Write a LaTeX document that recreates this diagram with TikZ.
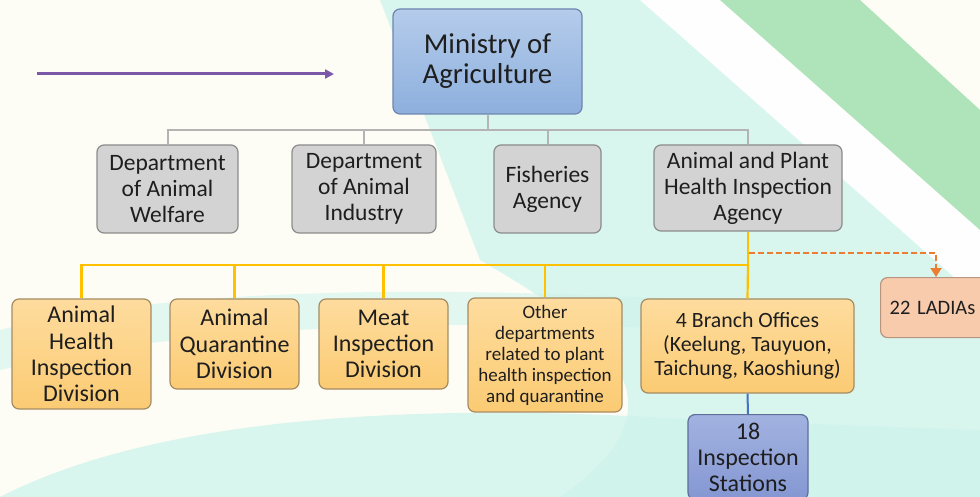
\documentclass[tikz,border=0pt]{standalone}
\usepackage{fontspec}
\setmainfont{Carlito}
\usetikzlibrary{arrows.meta}
\definecolor{mint}{HTML}{CFF3EC}
\definecolor{leaf}{HTML}{8FD9A0}
\definecolor{paper}{HTML}{FDFDF6}
\definecolor{graybox}{HTML}{D3D3D3}
\definecolor{grayedge}{HTML}{8C8C8C}
\definecolor{grayline}{HTML}{B4B4B4}
\definecolor{orangetop}{HTML}{FEDC9E}
\definecolor{orangebot}{HTML}{FBCB73}
\definecolor{orangeedge}{HTML}{A58C63}
\definecolor{yellowline}{HTML}{FFC000}
\definecolor{bluetop}{HTML}{B5CCEB}
\definecolor{bluebot}{HTML}{8DAFDD}
\definecolor{blueedge}{HTML}{6E86AE}
\definecolor{stationtop}{HTML}{A2B2E0}
\definecolor{stationbot}{HTML}{8497D2}
\definecolor{stationedge}{HTML}{5F6E9A}
\definecolor{blueline}{HTML}{4472C4}
\definecolor{ladia}{HTML}{F8CBAD}
\definecolor{ladiaedge}{HTML}{B8957E}
\definecolor{dashorange}{HTML}{ED7D31}
\definecolor{purplearrow}{HTML}{7B59A8}
\definecolor{ink}{HTML}{1E1E1E}
\begin{document}
\begin{tikzpicture}[x=1pt,y=-1pt,
  box/.style={rounded corners=7pt, align=center, inner sep=0pt, line width=1.2pt, text=ink},
  grayb/.style={box, draw=grayedge, fill=graybox, font=\fontsize{23.5}{26}\selectfont},
  orangeb/.style={box, draw=orangeedge, top color=orangetop, bottom color=orangebot, font=\fontsize{24}{26.3}\selectfont},
  grayconn/.style={draw=grayline, line width=2pt},
  yellowconn/.style={draw=yellowline, line width=2.2pt},
]
\useasboundingbox (0,0) rectangle (980,497);
\clip (0,0) rectangle (980,497);
% background
\fill[paper] (0,0) rectangle (980,497);
\fill[mint, opacity=0.8] (380,0) -- (640,0) -- (980,300) -- (980,497) -- (560,497) .. controls (700,400) and (600,330) .. (480,260) -- cycle;
\fill[white, opacity=0.9] (640,0) -- (720,0) -- (980,230) -- (980,300) -- cycle;
\fill[leaf, opacity=0.7] (720,0) -- (860,0) -- (980,110) -- (980,230) -- cycle;
\fill[mint, opacity=0.8] (0,497) .. controls (150,420) and (400,400) .. (700,420) -- (980,430) -- (980,497) -- cycle;
\fill[mint, opacity=0.6] (0,330) .. controls (200,280) and (500,290) .. (700,300) -- (700,330) .. controls (500,320) and (200,320) .. (0,370) -- cycle;

% purple arrow
\coordinate (pa) at (37,74);
\coordinate (pb) at (334,74);
\draw[purplearrow, line width=3pt, -{Triangle[length=9pt,width=9pt]}] (pa) -- (pb);

% nodes
\node[box, draw=blueedge, top color=bluetop, bottom color=bluebot, minimum width=189pt, minimum height=105pt, font=\fontsize{28.8}{30}\selectfont] (moa) at (487.5,61.5) {Ministry of\\Agriculture};

\node[grayb, minimum width=141pt, minimum height=88pt] (daw) at (167.5,189) {Department\\of Animal\\Welfare};
\node[grayb, minimum width=144pt, minimum height=88pt] (dai) at (364,189) {Department\\of Animal\\Industry};
\node[grayb, minimum width=107pt, minimum height=88pt] (fa) at (547.5,189) {Fisheries\\Agency};
\node[grayb, minimum width=188pt, minimum height=86pt] (aphia) at (748,188) {Animal and Plant\\Health Inspection\\Agency};

\node[orangeb, minimum width=139pt, minimum height=110pt] (ahid) at (81.5,354) {Animal\\Health\\Inspection\\Division};
\node[orangeb, minimum width=129pt, minimum height=90pt] (aqd) at (234.5,344) {Animal\\Quarantine\\Division};
\node[orangeb, minimum width=129pt, minimum height=90pt] (mid) at (383.5,344) {Meat\\Inspection\\Division};
\node[orangeb, minimum width=154pt, minimum height=114pt, font=\fontsize{19}{21}\selectfont] (oth) at (545,355) {Other\\departments\\related to plant\\health inspection\\and quarantine};
\node[orangeb, minimum width=213pt, minimum height=94pt, font=\fontsize{21.8}{24}\selectfont] (bo) at (747.5,346) {4 Branch Offices\\(Keelung, Tauyuon,\\Taichung, Kaoshiung)};

\node[box, draw=stationedge, top color=stationtop, bottom color=stationbot, minimum width=120pt, minimum height=85pt, font=\fontsize{24}{26}\selectfont, anchor=north] (is) at (748,414) {18\\Inspection\\Stations};

\node[box, draw=ladiaedge, fill=ladia, minimum width=130pt, minimum height=60pt, text width=121pt, inner xsep=9pt, align=left, anchor=north west, font=\fontsize{20.5}{24}\selectfont] (ladia) at (880,277) {22 LADIAs};

% gray connectors
\coordinate (gy) at (487.5,130);
\draw[grayconn] (moa.south) -- (gy);
\draw[grayconn] (daw.north) |- (gy);
\draw[grayconn] (dai.north) |- (gy);
\draw[grayconn] (fa.north) |- (gy);
\draw[grayconn] (aphia.north) |- (gy);

% yellow connectors
\coordinate (yy) at (748,265);
\draw[yellowconn] (aphia.south) -- (yy);
\draw[yellowconn] (ahid.north) |- (yy);
\draw[yellowconn] (aqd.north) |- (yy);
\draw[yellowconn] (mid.north) |- (yy);
\draw[yellowconn] (oth.north) |- (yy);
\draw[yellowconn] (bo.north) -- (yy);

% blue connector
\draw[blueline, line width=2pt] (bo.south) -- (is.north);

% dashed orange
\coordinate (da) at (749,253);
\coordinate (db) at (936,253);
\draw[dashorange, line width=1.8pt, dash pattern=on 6pt off 3pt, -{Triangle[length=9pt,width=11pt]}] (da) -- (db) -- (db |- ladia.north);
\end{tikzpicture}
\end{document}
